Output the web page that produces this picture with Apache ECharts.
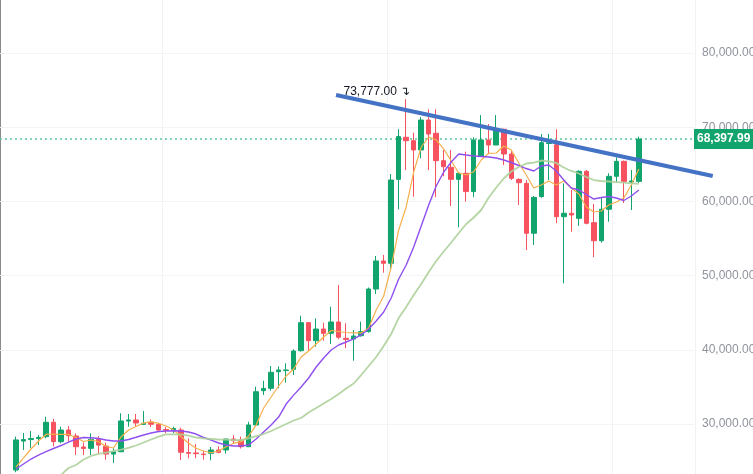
<!DOCTYPE html>
<html>
<head>
<meta charset="utf-8">
<script src="https://cdn.jsdelivr.net/npm/echarts@6/dist/echarts.min.js"></script>
<style>
  html, body { margin: 0; padding: 0; background: #fff; }
  #main { width: 753px; height: 474px; }
</style>
</head>
<body>
<div id="main"></div>
<script>
// weekly candles, Mon 2023-03-13 .. 2024-10-14, then empty future weeks
const categories = [
  '2023-03-13','2023-03-20','2023-03-27','2023-04-03','2023-04-10','2023-04-17','2023-04-24','2023-05-01','2023-05-08','2023-05-15',
  '2023-05-22','2023-05-29','2023-06-05','2023-06-12','2023-06-19','2023-06-26','2023-07-03','2023-07-10','2023-07-17','2023-07-24',
  '2023-07-31','2023-08-07','2023-08-14','2023-08-21','2023-08-28','2023-09-04','2023-09-11','2023-09-18','2023-09-25','2023-10-02',
  '2023-10-09','2023-10-16','2023-10-23','2023-10-30','2023-11-06','2023-11-13','2023-11-20','2023-11-27','2023-12-04','2023-12-11',
  '2023-12-18','2023-12-25','2024-01-01','2024-01-08','2024-01-15','2024-01-22','2024-01-29','2024-02-05','2024-02-12','2024-02-19',
  '2024-02-26','2024-03-04','2024-03-11','2024-03-18','2024-03-25','2024-04-01','2024-04-08','2024-04-15','2024-04-22','2024-04-29',
  '2024-05-06','2024-05-13','2024-05-20','2024-05-27','2024-06-03','2024-06-10','2024-06-17','2024-06-24','2024-07-01','2024-07-08',
  '2024-07-15','2024-07-22','2024-07-29','2024-08-05','2024-08-12','2024-08-19','2024-08-26','2024-09-02','2024-09-09','2024-09-16',
  '2024-09-23','2024-09-30','2024-10-07','2024-10-14',
  '2024-10-21','2024-10-28','2024-11-04','2024-11-11','2024-11-18','2024-11-25','2024-12-02'
];

const opens = [
  23800, 27700, 27900, 28050, 28290, 30230, 27620, 29190, 28380, 26900,
  26720, 27930, 27030, 25950, 26270, 30400, 30540, 29950, 30230, 29960,
  29250, 29150, 29190, 26150, 26100, 25950, 26050, 26500, 26500, 27980,
  27840, 26940, 29870, 34490, 34810, 37050, 37200, 37370, 39880, 43660,
  41230, 42800, 42220, 43750, 41550, 41450, 41900, 42450, 48190, 51970,
  51660, 62970, 68640, 68180, 66930, 70970, 69180, 65490, 64600, 62970,
  63790, 61320, 66120, 68280, 67600, 69720, 66390, 62970, 62430, 55710,
  60640, 67800, 67640, 57940, 58400, 57720, 64050, 57130, 54700, 58940,
  63380, 65400, 62600, 62700
];
const closes = [
  27850, 27900, 28050, 28200, 30230, 27620, 29190, 28420, 26940, 26700,
  27930, 27160, 25950, 26270, 30410, 30540, 30140, 30090, 29960, 29190,
  29150, 29400, 26190, 26050, 26000, 25880, 26500, 26180, 27980, 27750,
  26940, 29870, 34350, 34800, 36970, 37280, 37280, 39840, 43660, 41230,
  42800, 42220, 43750, 41690, 41400, 41860, 42450, 48190, 51970, 51660,
  62880, 68730, 68180, 66930, 70970, 69080, 65490, 64680, 62970, 63790,
  61320, 68280, 68280, 67600, 69720, 66390, 63110, 62520, 55710, 60540,
  67910, 67900, 57940, 58400, 58170, 64050, 57050, 54700, 58940, 63380,
  65400, 62700, 62750, 68397.99
];
const lows = [
  23500, 26500, 26770, 27170, 28070, 26970, 27400, 27620, 25820, 25800,
  25820, 26040, 25200, 24760, 26200, 29640, 29640, 29860, 29600, 28900,
  28750, 28750, 25150, 25390, 25400, 25200, 25100, 26050, 26000, 27400,
  26700, 26900, 29800, 33910, 34490, 34810, 35570, 36600, 39750, 39880,
  40420, 41230, 40780, 41420, 40200, 38530, 41770, 42300, 47520, 50390,
  50760, 58930, 64230, 60640, 65810, 64230, 60560, 63380, 59380, 56510,
  59970, 60560, 66000, 66390, 67600, 64910, 62880, 59520, 53450, 54130,
  60500, 62880, 57050, 48960, 55920, 56690, 56900, 52480, 54440, 57260,
  62520, 59780, 58840, 62500
];
const highs = [
  28300, 28800, 29060, 28520, 30990, 30680, 29640, 29730, 28740, 27500,
  28740, 28380, 27500, 26720, 31450, 31350, 31350, 31750, 30600, 30140,
  29600, 29650, 29500, 28070, 27300, 26400, 26900, 27000, 28000, 28500,
  28300, 30300, 35030, 35830, 37820, 37770, 38180, 40070, 44600, 43700,
  44240, 43660, 45810, 48730, 43570, 42670, 43790, 48400, 52640, 52780,
  63690, 69720, 73777, 69270, 71370, 72410, 72410, 66930, 66930, 63900,
  66710, 68640, 71640, 70430, 71640, 69800, 66930, 63110, 62880, 60730,
  69090, 69090, 69720, 62430, 61540, 64200, 64230, 59660, 60540, 63790,
  65940, 65500, 64230, 68730
];

// indicator lines
const maFast = [
  24200, 25420, 26630, 27710, 28590, 28650, 28610, 28590, 28180, 27640,
  27840, 27620, 26970, 26770, 28250, 29190, 29660, 30130, 30310, 30090,
  29730, 29190, 28290, 27400, 26730, 26360, 26130, 26360, 26940, 27400,
  27620, 28380, 29860, 32160, 33640, 35120, 36470, 37410, 39030, 39840,
  40780, 41730, 42600, 42470, 42330, 42270, 42270, 42940, 45370, 47250,
  51160, 56150, 59250, 63960, 67330, 68680, 68280, 67060, 65440, 63830,
  63560, 64000, 65580, 66480, 66520, 67470, 66930, 65180, 63560, 61800,
  62210, 62750, 62210, 62750, 61800, 61000, 59250, 58570, 58710, 59520,
  59920, 60460, 62210, 64370
];
const maMid = [
  23930, 24610, 25280, 25820, 26290, 26700, 27100, 27570, 27980, 28180,
  28140, 28050, 27840, 27710, 27710, 27910, 28210, 28520, 28790, 28990,
  29060, 29100, 29060, 28920, 28650, 28180, 27840, 27440, 27170, 27030,
  27030, 27170, 27980, 28920, 29860, 30940, 32690, 33890, 34990, 36200,
  37680, 38900, 39970, 40650, 41050, 41460, 42000, 42800, 43880, 45090,
  46980, 49540, 51430, 53860, 56690, 59520, 62080, 63960, 65310, 66390,
  66250, 66120, 66050, 65980, 65850, 65580, 65240, 64840, 64430, 64100,
  64770, 64910, 64100, 62880, 61810, 61540, 60930, 60320, 60530, 60660,
  60460, 60120, 60730, 61540
];
const maSlow = [
  null, null, null, null, null, null, 23130, 24070, 24470, 25210,
  25690, 25960, 26130, 26360, 26550, 26770, 27100, 27510, 27910, 28290,
  28590, 28610, 28610, 28420, 28180, 28050, 27980, 27910, 27890, 27840,
  27840, 28050, 28380, 28650, 29060, 29530, 30000, 30470, 30810, 31550,
  32160, 32760, 33370, 34040, 34780, 35460, 36600, 37820, 39030, 40510,
  42130, 44290, 45770, 47390, 48870, 50490, 51970, 53250, 54460, 55740,
  56950, 57830, 58840, 60530, 61870, 63090, 64030, 64640, 65110, 65240,
  65510, 65380, 65180, 64570, 64100, 63760, 63290, 62880, 62750, 62680,
  62610, 62520, 62440, 62350
];

// hand-drawn resistance line: [candle index, price]
const trendLine = [[42.65, 74340], [92.85, 63420]];
const highIndex = 52;

const UP = '#12a46d';
const DOWN = '#f7525f';
const FONT = 'Liberation Sans, Arial, sans-serif';

const candles = opens.map((o, i) => [o, closes[i], lows[i], highs[i]]);
const lastClose = closes[closes.length - 1];
const fmt = v => v.toLocaleString('en-US', { minimumFractionDigits: 2, maximumFractionDigits: 2 });

const W = 753;
const Y_MIN = 20000, Y_MAX = 90000;
const TOP = -21.2, BOTTOM = -24.2;
const PLOT_LEFT = 12.25, PLOT_RIGHT = 57.9;
const band = (W - PLOT_LEFT - PLOT_RIGHT) / categories.length;
// the drawn trend line runs past the price scale, so it gets its own wider grid
const trendMax = -0.5 + (W - PLOT_LEFT) / band;

const chart = echarts.init(document.getElementById('main'));

chart.setOption({
  animation: false,
  backgroundColor: '#ffffff',
  textStyle: { fontFamily: FONT },
  grid: [
    { left: 0, right: 59, top: TOP, bottom: BOTTOM, outerBoundsMode: 'none', containLabel: false },
    { left: PLOT_LEFT, right: PLOT_RIGHT, top: TOP, bottom: BOTTOM, outerBoundsMode: 'none', containLabel: false },
    { left: PLOT_LEFT, right: 0, top: TOP, bottom: BOTTOM, outerBoundsMode: 'none', containLabel: false }
  ],
  xAxis: [
    { gridIndex: 0, type: 'value', min: 0, max: 1, show: false },
    {
      gridIndex: 1, type: 'category', data: categories, boundaryGap: true,
      axisLine: { show: false }, axisTick: { show: false }, axisLabel: { show: false },
      splitLine: {
        show: true,
        interval: (i) => i === 20 || i === 50 || i === 80,
        lineStyle: { color: '#f1f2f4' }
      }
    },
    { gridIndex: 2, type: 'value', min: -0.5, max: trendMax, show: false }
  ],
  yAxis: [
    {
      gridIndex: 0, type: 'value', position: 'right',
      min: Y_MIN, max: Y_MAX, interval: 10000,
      axisLine: { show: true, lineStyle: { color: '#eceef2' } },
      axisTick: { show: true, length: 4, lineStyle: { color: '#eceef2' } },
      axisLabel: {
        margin: 8, fontSize: 12, color: '#8f939c', fontFamily: FONT,
        formatter: v => fmt(v)
      },
      splitLine: { show: true, lineStyle: { color: '#f3f4f6' } }
    },
    {
      gridIndex: 0, type: 'value', position: 'left', min: Y_MIN, max: Y_MAX,
      axisLine: { show: true, lineStyle: { color: '#8a8a8a', width: 1 } },
      axisTick: { show: false }, axisLabel: { show: false }, splitLine: { show: false }
    },
    { gridIndex: 1, type: 'value', min: Y_MIN, max: Y_MAX, show: false },
    { gridIndex: 2, type: 'value', min: Y_MIN, max: Y_MAX, show: false }
  ],
  series: [
    {
      name: 'price line',
      type: 'line',
      xAxisIndex: 0, yAxisIndex: 0,
      data: [[0, lastClose], [1, lastClose]],
      symbol: 'none',
      silent: true,
      z: 1,
      lineStyle: { color: '#5cc79b', width: 1.5, type: [2, 3] },
      endLabel: {
        show: true,
        distance: 0,
        formatter: () => fmt(lastClose),
        backgroundColor: UP,
        color: '#ffffff',
        fontWeight: 'bold',
        fontSize: 12,
        fontFamily: FONT,
        padding: [4, 3, 4, 3]
      }
    },
    {
      name: 'BTC',
      type: 'candlestick',
      xAxisIndex: 1, yAxisIndex: 2,
      data: candles,
      barWidth: 5,
      z: 2,
      itemStyle: {
        color: UP, color0: DOWN,
        borderColor: UP, borderColor0: DOWN,
        borderWidth: 1
      },
      markPoint: {
        symbol: 'circle',
        symbolSize: 0,
        silent: true,
        data: [{ coord: [categories[highIndex], highs[highIndex]] }],
        label: {
          show: true,
          position: 'left',
          distance: -4,
          offset: [0, -7],
          formatter: () => fmt(highs[highIndex]) + ' \u21b4',
          color: '#131722',
          fontSize: 12,
          fontFamily: FONT
        }
      }
    },
    {
      name: 'MA fast', type: 'line', xAxisIndex: 1, yAxisIndex: 2,
      data: maFast, symbol: 'none', z: 3,
      lineStyle: { color: '#f5b04c', width: 1.2 }
    },
    {
      name: 'MA mid', type: 'line', xAxisIndex: 1, yAxisIndex: 2,
      data: maMid, symbol: 'none', z: 3,
      lineStyle: { color: '#8f4ff0', width: 1.4 }
    },
    {
      name: 'MA slow', type: 'line', xAxisIndex: 1, yAxisIndex: 2,
      data: maSlow, symbol: 'none', z: 3,
      lineStyle: { color: '#add29a', width: 1.8, opacity: 0.9 }
    },
    {
      name: 'trend', type: 'line', xAxisIndex: 2, yAxisIndex: 3,
      data: trendLine, symbol: 'none', z: 4, silent: true,
      lineStyle: { color: '#4472c4', width: 4, cap: 'butt' }
    }
  ]
});
</script>
</body>
</html>
